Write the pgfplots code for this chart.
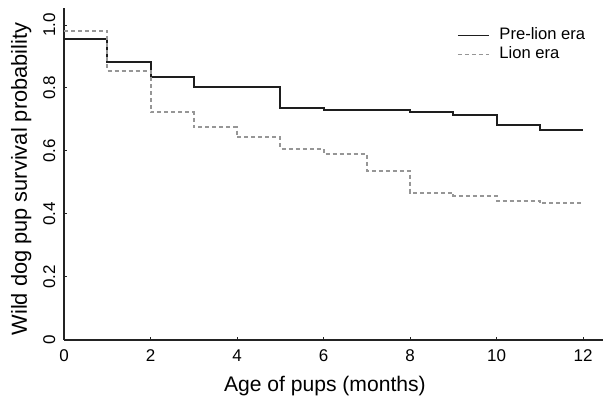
\documentclass[border=0pt]{standalone}
\usepackage{fontspec}
\setmainfont{Liberation Sans}
\usepackage{pgfplots}
\pgfplotsset{compat=1.18}

\definecolor{preline}{RGB}{30,30,30}
\definecolor{lionline}{RGB}{150,150,150}
\definecolor{axline}{RGB}{35,35,35}

\begin{document}
\begin{tikzpicture}
\begin{axis}[
    scale only axis,
    width=269.5pt, height=166pt,
    xmin=0, xmax=12.46,
    ymin=0, ymax=1.054,
    axis lines=left,
    axis line style={-, line width=1pt, color=axline},
    xtick={0,2,4,6,8,10,12},
    ytick={0,0.2,0.4,0.6,0.8,1.0},
    yticklabels={0,0.2,0.4,0.6,0.8,1.0},
    tick align=inside,
    major tick length=1.5pt,
    tick style={line width=0.5pt, color=axline},
    /pgf/number format/assume math mode=true,
    ticklabel style={font=\fontsize{8.5}{10}\selectfont, inner sep=0pt},
    xticklabel style={anchor=north},
    xticklabel shift=4.6pt,
    yticklabel style={rotate=90, anchor=south},
    yticklabel shift=4.2pt,
    xlabel={Age of pups (months)},
    ylabel={Wild dog pup survival probability},
    xlabel style={font=\fontsize{10.55}{12}\selectfont, inner sep=0pt,
        at={(axis description cs:0.484,0)}, anchor=base, yshift=-25.8pt},
    ylabel style={font=\fontsize{10.9}{12}\selectfont, inner sep=0pt,
        at={(axis description cs:-0.0599,0.485)}, rotate=0, anchor=south},
    legend style={at={(rel axis cs:0.729,0.948)}, anchor=north west,
        draw=none, fill=none, inner sep=0pt, column sep=4pt,
        font=\fontsize{8.3}{9}\selectfont,
        nodes={inner sep=1pt, text height=6pt, text depth=1.6pt}},
    legend cell align=left,
    legend image code/.code={\draw[#1, line width=0.55pt] (0pt,0pt) -- (15.5pt,0pt);},
]

\addplot[const plot, color=preline, line width=1pt] coordinates {
    (0,0.955) (1,0.883) (2,0.835) (3,0.803) (4,0.803) (5,0.737)
    (6,0.730) (7,0.730) (8,0.723) (9,0.714) (10,0.681) (11,0.668) (12,0.668)
};
\addlegendentry{Pre-lion era}

\addplot[const plot, color=lionline, line width=1pt, dash pattern=on 2pt off 1.5pt] coordinates {
    (0,0.982) (1,0.854) (2,0.723) (3,0.675) (4,0.643) (5,0.607)
    (6,0.590) (7,0.537) (8,0.468) (9,0.458) (10,0.441) (11,0.434) (12,0.434)
};
\addlegendentry{Lion era}

\end{axis}
\pgfresetboundingbox
\path[use as bounding box] ([shift={(-32pt,-30pt)}]current axis.south west)
    rectangle ([shift={(0pt,4pt)}]current axis.north east);
\end{tikzpicture}
\end{document}
